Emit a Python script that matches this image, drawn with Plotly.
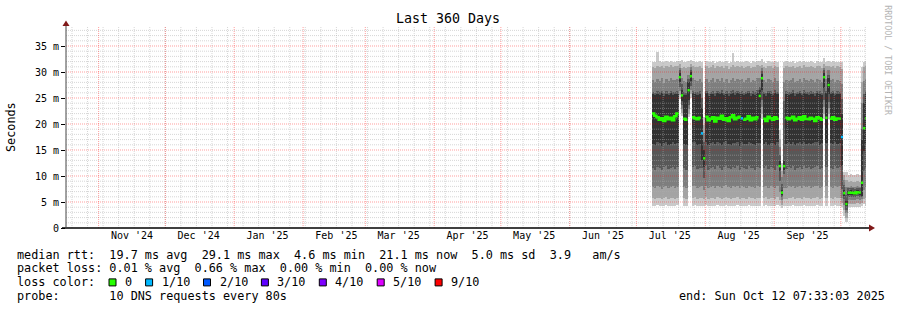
import plotly.graph_objects as go
from datetime import datetime, timedelta

# ---------------- data (values in ms) ----------------
T_START = datetime(2024, 10, 17, 7, 33, 3)
T_END = datetime(2025, 10, 12, 7, 33, 3)
DATA_FIRST_DAY = datetime(2025, 7, 8)   # first day with samples, one value per day

p1 = [4.3,4.2,4.4,4.3,4.2,4.3,4.4,4.2,4.3,4.3,
      4.2,4.4,24.8,21.5,4.3,4.2,21.4,25.0,4.3,4.4,
      4.2,4.3,4.3,4.3,4.4,4.2,4.3,4.3,4.2,4.4,
      4.3,4.2,4.3,4.4,4.3,4.2,4.3,4.3,4.4,4.2,
      4.3,4.3,4.2,4.4,4.3,4.3,4.2,4.3,4.3,21.0,
      4.3,4.4,4.2,4.3,4.3,4.2,4.4,4.2,3.9,4.3,
      4.2,4.3,4.3,4.4,4.2,4.3,4.3,4.2,4.4,4.3,
      4.3,4.2,4.3,4.3,4.4,4.2,4.3,21.0,4.3,21.0,
      4.3,4.2,4.4,4.3,4.3,4.0,2.4,1.2,4.1,4.1,
      4.0,4.1,4.1,4.0,4.2,4.6,4.3]
p2 = [5.7,5.6,5.8,5.7,5.5,5.8,5.9,5.6,5.7,5.8,
      5.6,5.8,25.6,22.2,5.7,5.5,22.0,25.8,5.8,5.9,
      5.6,5.7,5.8,5.6,5.9,5.5,5.7,5.8,5.6,5.9,
      5.7,5.5,5.8,5.9,5.7,5.6,5.8,5.7,5.9,5.5,
      5.8,5.7,5.6,5.9,5.8,5.7,5.5,5.8,5.7,22.0,
      5.7,5.9,5.6,5.8,5.7,5.5,5.9,5.3,4.5,5.6,
      5.6,5.8,5.7,5.9,5.5,5.7,5.8,5.6,5.9,5.7,
      5.8,5.6,5.7,5.8,5.9,5.5,5.7,22.0,5.8,22.0,
      5.7,5.6,5.9,5.7,5.8,4.8,3.5,1.9,4.7,4.7,
      4.6,4.7,4.8,4.6,4.8,5.5,5.7]
p3 = [7.8,7.6,8.0,7.9,7.5,7.9,8.1,7.7,7.8,8.0,
      7.7,7.9,26.4,22.9,7.8,7.6,22.8,26.6,8.0,8.1,
      7.7,7.8,8.0,7.4,8.1,7.6,7.9,8.0,7.7,8.1,
      7.9,7.6,8.0,8.2,7.8,7.7,8.0,7.9,8.1,7.6,
      8.0,7.8,7.7,8.1,7.9,7.8,7.6,8.0,7.9,23.2,
      7.8,8.1,7.7,8.0,7.9,7.6,8.1,7.0,5.3,7.6,
      7.7,8.0,7.8,8.1,7.6,7.9,8.0,7.7,8.1,7.8,
      8.0,7.7,7.9,8.0,8.1,7.6,7.9,23.2,8.0,23.0,
      7.9,7.7,8.1,7.8,8.0,5.8,4.5,2.8,5.4,5.4,
      5.3,5.4,5.5,5.3,5.5,7.4,7.8]
p4 = [11.5,11.2,11.8,11.6,11.1,11.7,11.9,11.3,11.5,11.8,
      11.4,11.7,27.2,23.6,11.5,11.2,23.6,27.4,11.8,11.9,
      11.3,11.5,11.6,9.6,11.9,11.2,11.6,11.8,11.4,11.9,
      11.6,11.2,11.8,12.0,11.5,11.3,11.7,11.6,11.9,11.1,
      11.8,11.5,11.4,11.9,11.6,11.5,11.2,11.7,11.6,24.6,
      11.5,11.9,11.3,11.7,11.6,11.2,11.9,9.0,6.0,10.4,
      11.4,11.8,11.5,11.9,11.2,11.6,11.8,11.4,11.9,11.5,
      11.7,11.4,11.6,11.8,11.9,11.3,11.6,24.6,11.7,24.2,
      11.6,11.4,11.9,11.5,11.7,7.5,5.5,3.5,6.0,6.0,
      5.9,6.0,6.1,5.9,6.0,11.0,11.5]
p5 = [16.2,15.9,16.5,16.3,15.8,16.4,16.6,16.0,16.2,16.5,
      16.1,16.4,28.0,24.4,16.2,15.9,24.6,28.2,16.5,16.6,
      16.0,16.2,13.0,11.8,16.6,15.9,16.3,16.5,16.1,16.6,
      16.3,15.9,16.5,16.7,16.2,16.0,16.4,16.3,16.6,15.8,
      16.5,16.2,16.1,16.6,16.3,16.2,15.9,16.4,16.3,26.6,
      16.2,16.6,16.0,16.4,16.3,15.9,16.6,10.9,6.4,11.2,
      16.1,16.5,16.2,16.6,15.9,16.3,16.5,16.1,16.6,16.2,
      16.4,16.1,16.3,16.5,16.6,16.0,16.3,27.0,16.4,25.8,
      16.3,16.1,16.6,16.2,16.4,12.0,6.2,4.2,6.4,6.4,
      6.3,6.4,6.5,6.3,6.2,14.8,16.2]
median = [22.0,21.6,21.3,20.8,21.1,20.6,21.4,20.9,21.2,20.7,
          21.5,22.0,29.0,25.5,21.0,20.8,26.5,29.2,21.3,21.1,
          20.9,21.2,18.2,13.4,21.4,20.7,21.0,21.3,20.5,21.2,
          21.0,21.6,20.8,21.1,20.6,21.3,21.7,20.9,21.2,21.4,
          21.1,20.8,21.0,21.5,20.7,21.2,20.9,21.3,25.4,28.8,
          21.0,20.6,21.4,21.1,20.8,21.3,21.0,11.9,6.8,11.9,
          21.2,20.9,21.1,21.4,20.7,21.0,21.3,20.8,21.5,21.0,
          20.9,21.2,21.0,20.6,21.3,21.1,20.8,29.0,21.2,27.5,
          21.0,21.3,20.8,21.1,21.0,17.5,6.7,4.6,6.8,6.9,
          6.8,6.7,6.9,6.8,8.7,19.2,21.1]
p6 = [25.8,25.6,25.7,25.5,25.9,25.4,25.8,25.6,25.9,25.5,
      25.7,25.8,29.8,26.6,25.6,25.5,28.0,30.0,25.9,25.7,
      25.6,25.8,23.0,15.0,25.9,25.4,25.7,25.8,25.3,25.9,
      25.7,25.9,25.5,25.8,25.4,25.8,26.0,25.6,25.9,25.7,
      25.8,25.5,25.7,25.9,25.4,25.8,25.6,25.9,26.5,29.6,
      25.7,25.4,25.9,25.8,25.5,25.9,25.7,12.9,7.3,12.8,
      25.8,25.6,25.7,25.9,25.4,25.7,25.9,25.5,26.0,25.7,
      25.6,25.8,25.7,25.4,25.9,25.8,25.5,29.8,25.9,28.8,
      25.7,25.9,25.5,25.8,25.7,22.0,7.3,5.2,7.2,7.3,
      7.2,7.1,7.3,7.2,17.0,24.0,25.9]
p7 = [26.2,26.0,26.3,26.1,26.4,25.9,26.3,26.0,26.4,26.1,
      26.2,26.3,30.3,27.6,26.1,26.0,28.6,30.4,26.4,26.2,
      26.1,26.3,25.0,16.6,26.4,26.0,26.2,26.3,25.9,26.4,
      26.2,26.5,26.0,26.3,25.9,26.3,26.6,26.1,26.4,26.2,
      26.3,26.0,26.2,26.4,25.9,26.3,26.1,26.5,27.2,30.1,
      26.2,25.9,26.4,26.3,26.0,26.5,26.2,14.0,8.4,24.5,
      26.3,26.1,26.2,26.5,25.9,26.2,26.4,26.0,26.6,26.2,
      26.1,26.3,26.2,25.9,26.4,26.3,26.0,30.3,26.4,29.5,
      26.2,26.4,26.0,26.3,26.2,24.8,8.2,6.3,7.6,7.7,
      7.6,7.5,7.7,7.6,19.0,25.8,26.4]
p8 = [28.4,28.0,28.7,28.3,28.8,27.9,28.6,28.2,28.9,28.4,
      28.5,28.7,30.8,28.8,28.3,28.1,29.4,30.9,28.8,28.4,
      28.2,28.6,28.0,18.2,28.7,28.1,28.5,28.9,28.0,28.6,
      28.3,28.8,28.1,28.6,27.9,28.5,28.9,28.2,28.7,28.4,
      28.6,28.1,28.4,28.8,28.0,28.5,28.2,28.9,28.8,30.7,
      28.4,28.0,28.7,28.5,28.1,28.8,28.3,15.5,9.8,28.0,
      28.5,28.2,28.4,28.8,28.0,28.3,28.7,28.1,28.9,28.4,
      28.2,28.6,28.4,28.0,28.7,28.5,28.1,30.8,28.6,30.3,
      28.4,28.7,28.1,28.5,28.3,27.6,9.2,7.8,7.9,8.0,
      7.9,7.8,8.0,7.9,24.0,28.3,28.6]
p9 = [31.0,30.8,31.2,30.9,31.1,30.7,31.2,30.9,31.3,31.0,
      31.1,31.2,31.5,30.8,30.9,30.8,31.0,31.6,31.2,31.0,
      30.9,31.1,30.8,19.8,31.2,30.8,31.0,31.3,30.7,31.1,
      31.0,31.2,30.8,31.1,30.6,31.0,31.3,30.9,31.2,31.0,
      31.1,30.8,31.0,31.2,30.7,31.0,30.9,31.3,31.1,31.4,
      31.0,30.7,31.2,31.1,30.8,31.2,31.0,17.2,11.0,30.8,
      31.1,30.9,31.0,31.2,30.7,31.0,31.2,30.8,31.3,31.0,
      30.9,31.1,31.0,30.7,31.2,31.1,30.8,31.5,31.1,31.2,
      31.0,31.2,30.8,31.1,31.0,30.5,10.2,9.2,8.9,9.0,
      8.9,8.8,9.0,8.9,28.0,30.9,31.1]
p10 = [31.9,32.0,33.9,32.1,31.9,32.0,32.2,31.9,32.1,32.0,
       32.0,32.1,32.2,32.3,31.9,32.0,32.2,32.4,32.1,31.9,
       32.0,32.1,31.9,21.4,32.2,31.9,32.0,32.1,31.8,32.0,
       32.1,32.0,31.9,32.2,31.8,32.0,33.6,32.0,32.1,31.9,
       32.0,31.9,32.1,32.0,31.8,32.1,32.0,32.2,32.1,32.5,
       32.0,31.8,32.1,32.0,31.9,32.1,32.0,18.8,12.5,32.0,
       32.1,31.9,32.0,32.1,31.8,32.0,32.1,31.9,32.2,32.0,
       31.9,32.1,32.0,31.8,32.1,32.0,31.9,32.6,32.0,32.2,
       32.0,32.1,31.9,32.0,32.0,32.0,10.8,10.8,10.2,10.3,
       10.2,10.2,10.3,10.2,31.0,32.0,32.1]
loss = [0]*97
for _i in (22, 40, 85):
    loss[_i] = 1      # 1/10 packet loss on those days

y_ticks = [0, 5, 10, 15, 20, 25, 30, 35]
y_tick_text = ["0", "5 m", "10 m", "15 m", "20 m", "25 m", "30 m", "35 m"]

smoke_colors = ["#cacaca", "#a4a4a4", "#7e7e7e", "#585858", "#323232"]
loss_labels = ["0", "1/10", "2/10", "3/10", "4/10", "5/10", "9/10"]
loss_colors = ["#26ff00", "#00b8ff", "#0059ff", "#5e00ff", "#7e00ff", "#dd00ff", "#ff0000"]

rtt_stats = [("19.7", "ms avg"), ("29.1", "ms max"), ("4.6", "ms min"),
             ("21.1", "ms now"), ("5.0", "ms sd")]
am_per_s = "3.9"
loss_stats = [("0.01", "% avg"), ("0.66", "% max"), ("0.00", "% min"), ("0.00", "% now")]
probe_text = "10 DNS requests every 80s"
end_text = "end: Sun Oct 12 07:33:03 2025"
title_text = "Last 360 Days"

# ---------------- layout constants ----------------
W, H = 897, 310
PL, PR, PT, PB = 66, 866, 26, 228
Y_MAX = (PB - PT) / 5.2
MONO = "DejaVu Sans Mono"


def px(x):
    return (x - PL) / (PR - PL)


def py(y):
    return (PB - y) / (PB - PT)


def nb(s):
    return s.replace(" ", "\u00a0")


fig = go.Figure()

days = [DATA_FIRST_DAY + timedelta(days=i) for i in range(len(median))]
centers = [d + timedelta(hours=12) for d in days]
DAY_MS = 86400000

lows = [p1, p2, p3, p4, p5]
highs = [p10, p9, p8, p7, p6]
for lo, hi, col in zip(lows, highs, smoke_colors):
    fig.add_trace(go.Bar(
        x=centers, base=lo, y=[h - l for l, h in zip(lo, hi)],
        width=DAY_MS * 1.04, marker=dict(color=col, line=dict(width=0)),
        hoverinfo="skip", showlegend=False))

# grid (drawn above the smoke, like rrdtool)
weeks = []
t = datetime(2024, 10, 20)
while t < T_END:
    weeks.append(t)
    t += timedelta(days=7)
months = []
for k in range(12):
    yy, mm = 2024 + (10 + k) // 12, (10 + k) % 12 + 1
    months.append(datetime(yy, mm, 1))


def vlines(ts):
    xs, ys = [], []
    for tt in ts:
        xs += [tt, tt, None]
        ys += [0, Y_MAX, None]
    return xs, ys


def hlines(vs):
    xs, ys = [], []
    for v in vs:
        xs += [T_START, T_END, None]
        ys += [v, v, None]
    return xs, ys


minor_c = "rgba(175,175,175,0.5)"
major_c = "rgba(255,0,0,0.38)"
dash = "1px,1px"
for (xs, ys), c in [(vlines(weeks), minor_c),
                    (hlines([v for v in range(1, 39) if v % 5]), minor_c),
                    (vlines(months), major_c),
                    (hlines(y_ticks[1:]), major_c)]:
    fig.add_trace(go.Scatter(x=xs, y=ys, mode="lines",
                             line=dict(color=c, width=1, dash=dash),
                             hoverinfo="skip", showlegend=False))

# median per loss class: stepped line, broken at big jumps and at other loss classes
for lvl, col in enumerate(loss_colors[:2]):
    xs, ys = [], []
    prev = None
    for d, m, l in zip(days, median, loss):
        if l != lvl:
            if prev is not None:
                xs.append(None); ys.append(None)
            prev = None
            continue
        if prev is not None and abs(m - prev) > 1.5:
            xs.append(None); ys.append(None)
        xs += [d, d + timedelta(days=1)]
        ys += [m, m]
        prev = m
    fig.add_trace(go.Scatter(x=xs, y=ys, mode="lines", connectgaps=False,
                             line=dict(color=col, width=2.5),
                             hoverinfo="skip", showlegend=False))

label_pos = [datetime(m.year, m.month, 1) + timedelta(days=15) for m in months[:-1]]
label_txt = [m.strftime("%b '%y") for m in months[:-1]]

fig.update_layout(
    width=W, height=H,
    margin=dict(l=PL, r=W - PR, t=PT, b=H - PB, pad=0),
    paper_bgcolor="white", plot_bgcolor="white",
    barmode="overlay", bargap=0,
    showlegend=False,
    xaxis=dict(type="date", range=[T_START, T_END], showgrid=False, zeroline=False,
               tickvals=label_pos, ticktext=label_txt, ticks="",
               tickfont=dict(family=MONO, size=10, color="black"),
               showline=False, fixedrange=True),
    yaxis=dict(range=[0, Y_MAX], showgrid=False, zeroline=False,
               tickvals=y_ticks, ticktext=y_tick_text, ticks="outside", ticklen=4,
               tickcolor="black", tickwidth=1,
               tickfont=dict(family=MONO, size=10, color="black"),
               showline=False, fixedrange=True),
)

shapes = [
    dict(type="line", xref="paper", yref="paper", x0=px(62), x1=px(869), y0=0, y1=0,
         line=dict(color="black", width=1.5), layer="above"),
    dict(type="line", xref="paper", yref="paper", x0=0, x1=0, y0=0, y1=py(24),
         line=dict(color="#444444", width=1), layer="above"),
    dict(type="path", xref="paper", yref="paper",
         path=f"M {px(66)} {py(20.5)} L {px(69.5)} {py(26)} L {px(62.5)} {py(26)} Z",
         fillcolor="#801818", line=dict(width=0), layer="above"),
    dict(type="path", xref="paper", yref="paper",
         path=f"M {px(875)} {py(228)} L {px(869)} {py(224.5)} L {px(869)} {py(231.5)} Z",
         fillcolor="#801818", line=dict(width=0), layer="above"),
]

ann = []


def text(x, y, s, size=11.8, anchor="left", color="black", angle=0):
    ann.append(dict(x=px(x), y=py(y), xref="paper", yref="paper", text=nb(s),
                    showarrow=False, xanchor=anchor, yanchor="middle",
                    textangle=angle, borderpad=0,
                    font=dict(family=MONO, size=size, color=color)))


text(447.5, 19, title_text, size=13.3, anchor="center")
text(10.5, 126.5, "Seconds", size=11.8, anchor="center", angle=-90)
text(887.8, 60, "RRDTOOL / TOBI OETIKER", size=8.3, anchor="center", color="#b4b4b4", angle=90)

ROWS = [254.6, 268.3, 282.4, 296.0]
row1 = "median rtt:  " + "  ".join(f"{v} {u}" for v, u in rtt_stats) + f"  {am_per_s}   am/s"
row2 = "packet loss: " + "  ".join(f"{v} {u}" for v, u in loss_stats)
text(16, ROWS[0], row1)
text(16, ROWS[1], row2)
text(16, ROWS[2], "loss color:")
xb = 109.0
for lab, col in zip(loss_labels, loss_colors):
    shapes.append(dict(type="rect", xref="paper", yref="paper",
                       x0=px(xb), x1=px(xb + 7), y0=py(ROWS[2] + 3.5), y1=py(ROWS[2] - 3.5),
                       fillcolor=col, line=dict(color="black", width=1), layer="above"))
    text(xb + 15, ROWS[2], lab)
    xb += 15 + len(lab) * 7.1 + 14.5
text(16, ROWS[3], "probe:       " + probe_text)
text(678, ROWS[3], end_text)

fig.update_layout(shapes=shapes, annotations=ann)
fig.write_html("out.html")
